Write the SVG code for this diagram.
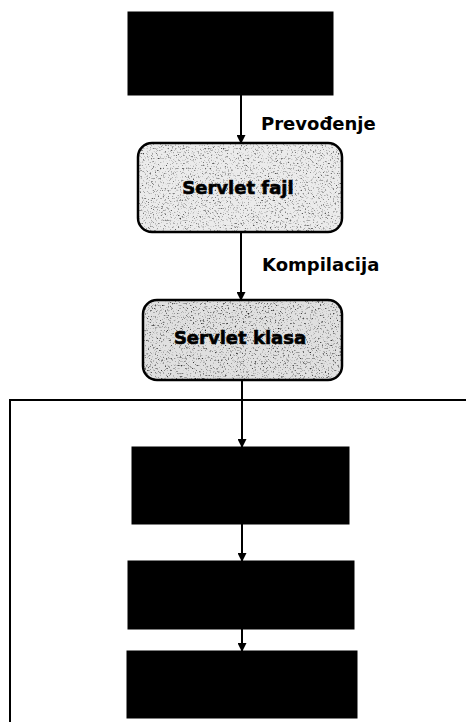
<svg xmlns="http://www.w3.org/2000/svg" width="466" height="723" viewBox="0 0 466 723">
<style>
.lbl{font-family:"DejaVu Sans",Verdana,sans-serif;font-weight:bold;font-size:18px;fill:#000}
.nt{font-family:"DejaVu Sans",Verdana,sans-serif;font-weight:bold;font-size:18px;fill:#000;text-anchor:middle}
.blk{fill:#000;stroke:#000;stroke-width:1}
.ln{stroke:#000;stroke-width:2;fill:none}
</style>
<defs>
<marker id="ah" viewBox="0 0 10 10" refX="9" refY="5" markerWidth="10" markerHeight="9" orient="auto" markerUnits="userSpaceOnUse">
<path d="M0,0 L10,5 L0,10 z" fill="#000"/>
</marker>
<filter id="noise" x="0" y="0" width="100%" height="100%">
<feTurbulence type="fractalNoise" baseFrequency="0.6" numOctaves="3" seed="7" result="t"/>
<feColorMatrix type="matrix" values="0 0 0 0 0  0 0 0 0 0  0 0 0 0 0  -3 0 0 0 1.3" in="t" result="a"/>
<feComposite in="a" in2="SourceGraphic" operator="in"/>
</filter>
<clipPath id="c1"><rect x="138" y="143" width="204" height="89" rx="14"/></clipPath>
<clipPath id="c2"><rect x="143" y="300" width="199" height="80" rx="14"/></clipPath>
</defs>
<g id="container">
<path class="ln" d="M10,722 L10,400 L466,400"/>
</g>
<g id="connectors">
<line class="ln" x1="241" y1="95" x2="241" y2="143" marker-end="url(#ah)"/>
<line class="ln" x1="241" y1="232" x2="241" y2="300" marker-end="url(#ah)"/>
<line class="ln" x1="242" y1="380" x2="242" y2="447" marker-end="url(#ah)"/>
<line class="ln" x1="242" y1="524" x2="242" y2="561" marker-end="url(#ah)"/>
<line class="ln" x1="242" y1="629" x2="242" y2="651" marker-end="url(#ah)"/>
</g>
<g id="labels">
<text class="lbl" x="261" y="130">Prevođenje</text>
<text class="lbl" x="262" y="271">Kompilacija</text>
</g>
<g id="n-top"><rect class="blk" x="128" y="12" width="205" height="83"/></g>
<g id="n-servlet-fajl">
<rect x="138" y="143" width="204" height="89" rx="14" fill="#ebebeb"/>
<rect x="138" y="143" width="204" height="89" fill="#000" filter="url(#noise)" clip-path="url(#c1)" opacity="0.75"/>
<rect x="138" y="143" width="204" height="89" rx="14" fill="none" stroke="#000" stroke-width="2.5"/>
<text class="nt" x="238" y="194" stroke="#000" stroke-width="0.6">Servlet fajl</text>
</g>
<g id="n-servlet-klasa">
<rect x="143" y="300" width="199" height="80" rx="14" fill="#e0e0e0"/>
<rect x="143" y="300" width="199" height="80" fill="#000" filter="url(#noise)" clip-path="url(#c2)" opacity="0.9"/>
<rect x="143" y="300" width="199" height="80" rx="14" fill="none" stroke="#000" stroke-width="2.5"/>
<text class="nt" x="240" y="344" stroke="#000" stroke-width="0.6">Servlet klasa</text>
</g>
<g id="n-4"><rect class="blk" x="132" y="447" width="217" height="77"/></g>
<g id="n-5"><rect class="blk" x="128" y="561" width="226" height="68"/></g>
<g id="n-6"><rect class="blk" x="127" y="651" width="230" height="67"/></g>
</svg>
